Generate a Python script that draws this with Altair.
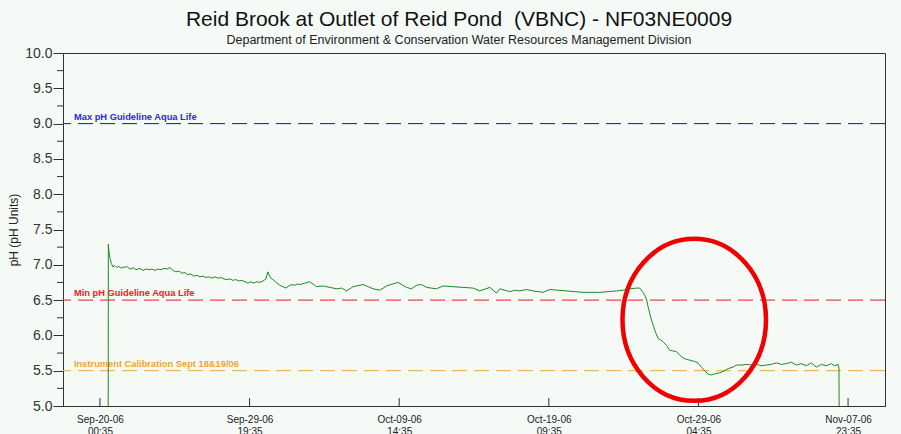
import altair as alt
import pandas as pd

# ---- data -------------------------------------------------------------
# Reference instant for the time axis (first labelled tick)
T0 = pd.Timestamp("2006-09-20 00:35")

# Hours after T0 of each logged reading, and the pH value at that time
elapsed_hours = [
    13.0, 13.2, 14.1, 15.7, 18.1, 20.4, 23.6, 26.7, 29.8, 33.0, 36.1, 39.3,
    42.4, 45.5, 48.7, 51.8, 55.0, 58.1, 61.2, 64.4, 67.5, 72.2, 76.9, 81.6,
    86.4, 91.1, 95.8, 100.5, 105.2, 109.9, 114.6, 119.3, 124.0, 128.7, 133.5,
    138.2, 142.9, 147.6, 152.3, 157.0, 161.7, 166.4, 171.1, 175.8, 180.6,
    185.3, 190.0, 194.7, 199.4, 204.1, 208.8, 213.5, 218.2, 222.9, 227.7,
    232.4,
    237.0, 242.0, 246.5, 251.0, 256.0, 260.6, 263.8, 265.3, 268.5, 273.2,
    277.9, 282.6, 287.3, 292.0, 296.7, 301.4, 306.2, 310.9, 314.0,
    329.7, 340.2, 350.6, 361.1, 371.6, 379.5, 387.3, 397.7, 413.4, 421.2,
    429.1, 439.6, 450.1, 460.5, 468.3, 481.5, 489.4, 497.2, 505.1, 512.9,
    528.6, 539.0, 554.7, 570.4, 586.1, 596.6, 612.3, 622.8, 628.0,
    635.9, 643.7, 651.6, 659.4, 669.9, 680.3, 688.1, 696.0, 706.5, 719.5,
    732.7, 745.8, 758.8, 772.0, 785.0, 798.0, 811.2, 821.6, 832.1, 842.6,
    847.8, 853.0, 855.6, 858.8,
    860.8, 863.5, 866.2, 868.7, 872.4, 876.5, 884.4, 889.7, 894.9, 900.1,
    905.4, 910.6, 915.8, 921.1, 926.3, 934.2, 939.3, 944.7, 949.9, 955.0,
    960.4, 967.1, 973.4, 981.3, 986.4, 994.3, 999.6, 1007.5, 1015.3, 1023.2,
    1031.0, 1038.9, 1046.7, 1054.6, 1062.4, 1070.3, 1078.1, 1086.0, 1093.8,
    1101.7, 1109.5, 1117.4, 1125.2, 1133.1, 1140.9, 1148.8, 1154.0, 1159.1,
    1160.7, 1161.0,
]
ph = [
    5.00, 7.29, 7.20, 7.09, 7.02, 6.97, 6.99, 6.96, 6.98, 6.95, 6.97, 6.96,
    6.98, 6.95, 6.94, 6.96, 6.94, 6.93, 6.95, 6.94, 6.92, 6.94, 6.93, 6.94,
    6.92, 6.94, 6.93, 6.95, 6.94, 6.96, 6.92, 6.90, 6.91, 6.88, 6.89,
    6.86, 6.87, 6.84, 6.85, 6.83, 6.84, 6.82, 6.83, 6.81, 6.83,
    6.81, 6.82, 6.80, 6.79, 6.80, 6.78, 6.79, 6.77, 6.78, 6.76,
    6.74,
    6.76, 6.74, 6.76, 6.75, 6.77, 6.80, 6.90, 6.86, 6.81, 6.78,
    6.74, 6.71, 6.69, 6.67, 6.70, 6.72, 6.71, 6.73, 6.72,
    6.76, 6.69, 6.70, 6.68, 6.66, 6.67, 6.63, 6.69, 6.72, 6.69,
    6.66, 6.64, 6.70, 6.73, 6.75, 6.68, 6.66, 6.71, 6.72, 6.68,
    6.66, 6.70, 6.69, 6.68, 6.67, 6.63, 6.68, 6.60, 6.66,
    6.64, 6.62, 6.64, 6.63, 6.65, 6.63, 6.62, 6.61, 6.65, 6.64,
    6.63, 6.62, 6.61, 6.61, 6.61, 6.62, 6.63, 6.64, 6.66, 6.67,
    6.67, 6.61, 6.57, 6.50,
    6.41, 6.31, 6.22, 6.15, 6.05, 5.96, 5.91, 5.86, 5.79, 5.78,
    5.77, 5.72, 5.68, 5.66, 5.65, 5.63, 5.61, 5.55, 5.50, 5.45,
    5.44, 5.46, 5.47, 5.50, 5.53, 5.55, 5.58, 5.58, 5.59, 5.58,
    5.59, 5.57, 5.58, 5.59, 5.61, 5.59, 5.60, 5.62, 5.58,
    5.60, 5.57, 5.61, 5.55, 5.59, 5.57, 5.60, 5.57, 5.59,
    5.54, 5.00,
]

# Guideline levels drawn across the plot
guide_labels = ["Max pH Guideline Aqua Life", "Min pH Guideline Aqua Life",
                "Instrument Calibration Sept 18&19/06"]
guide_levels = [9.0, 6.5, 5.5]
guide_colors = ["#1a1a8c", "#f01818", "#f0a432"]
guide_text_colors = ["#2a2ae0", "#f02020", "#f0a432"]

# Labelled x ticks (hours after T0) and the visible time window
tick_hours = [0, 235, 470, 705, 940, 1175]
window_hours = [-58, 1233]

# y axis: labelled and minor ticks
y_major = [5.0, 5.5, 6.0, 6.5, 7.0, 7.5, 8.0, 8.5, 9.0, 9.5, 10.0]
y_minor = [5.25, 5.75, 6.25, 6.75, 7.25, 7.75, 8.25, 8.75, 9.25, 9.75]

# Circled period of the pH drop (centre time in hours after T0, centre pH)
circle_hours = [933.4]
circle_ph = [6.22]

# ---- tables -----------------------------------------------------------
def to_time(h):
    return T0 + pd.Timedelta(hours=h)

def to_dt(ts):
    return alt.DateTime(year=ts.year, month=ts.month, date=ts.day,
                        hours=ts.hour, minutes=ts.minute)

series = pd.DataFrame({"time": [to_time(h) for h in elapsed_hours], "ph": ph})
guides = pd.DataFrame({"label": guide_labels, "level": guide_levels,
                       "color": guide_colors, "tcolor": guide_text_colors})
ticks = pd.DataFrame({"time": [to_time(h) for h in tick_hours]})
minor = pd.DataFrame({"v": y_minor})
circle = pd.DataFrame({"time": [to_time(h) for h in circle_hours], "ph": circle_ph})

W, H = 822, 353
FONT = "Liberation Sans"

x_scale = alt.Scale(domain=[to_dt(to_time(window_hours[0])),
                            to_dt(to_time(window_hours[1]))])
y_scale = alt.Scale(domain=[5, 10], nice=False, zero=False)

# Every layer shares identical axis definitions so the merged axes keep them
x_axis = alt.Axis(
    values=[to_dt(to_time(h)) for h in tick_hours],
    labelExpr="[timeFormat(datum.value, '%b-%d-%y'), timeFormat(datum.value, '%H:%M')]",
    ticks=False, grid=False, labelFont=FONT, labelFontSize=10,
    labelColor="#222", labelPadding=8, labelLineHeight=12,
    domainColor="#333", title=None, labelOverlap=False,
)
y_axis = alt.Axis(
    values=y_major, format=".1f", grid=False, tickSize=10, tickColor="#333",
    domainColor="#333", labelFont=FONT, labelFontSize=14, labelColor="#333",
    labelPadding=1, labelOverlap=False, labelBound=False,
    title="pH (pH Units)", titleFont=FONT, titleFontSize=12,
    titleFontWeight="normal", titleColor="#222", titlePadding=4,
)

line = alt.Chart(series).mark_line(color="#1f8a1f", strokeWidth=1).encode(
    x=alt.X("time:T", scale=x_scale, axis=x_axis),
    y=alt.Y("ph:Q", scale=y_scale, axis=y_axis),
)

guide_rules = alt.Chart(guides).mark_rule(strokeWidth=1, strokeDash=[15, 7]).encode(
    y=alt.Y("level:Q", scale=y_scale, axis=y_axis),
    color=alt.Color("color:N", scale=None),
)

guide_text = alt.Chart(guides).mark_text(
    align="left", baseline="alphabetic", dy=-4, font=FONT, fontSize=9.3,
    fontWeight="bold",
).encode(
    x=alt.value(11),
    y=alt.Y("level:Q", scale=y_scale, axis=y_axis),
    text="label:N",
    color=alt.Color("tcolor:N", scale=None),
)

x_ticks = alt.Chart(ticks).mark_rule(color="#333", strokeWidth=1).encode(
    x=alt.X("time:T", scale=x_scale, axis=x_axis),
    y=alt.value(H - 8), y2=alt.value(H),
)

y_minor_ticks = alt.Chart(minor).mark_rule(color="#333", strokeWidth=1).encode(
    y=alt.Y("v:Q", scale=y_scale, axis=y_axis),
    x=alt.value(-6), x2=alt.value(0),
)

ellipse = alt.Chart(circle).mark_point(
    shape="M -0.886 0 A 0.886 1 0 1 1 0.886 0 A 0.886 1 0 1 1 -0.886 0 Z",
    filled=False, stroke="#f00000", strokeWidth=4.5, opacity=1, size=26244,
).encode(
    x=alt.X("time:T", scale=x_scale, axis=x_axis),
    y=alt.Y("ph:Q", scale=y_scale, axis=y_axis),
)

chart = alt.layer(
    guide_rules, guide_text, x_ticks, y_minor_ticks, line, ellipse,
).properties(
    width=W, height=H,
    title=alt.TitleParams(
        text="Reid Brook at Outlet of Reid Pond\u00a0 (VBNC) - NF03NE0009",
        subtitle="Department of Environment & Conservation Water Resources Management Division",
        font=FONT, fontSize=21, fontWeight="normal", color="#111",
        subtitleFont=FONT, subtitleFontSize=12.5, subtitleColor="#222",
        subtitlePadding=4, anchor="middle", offset=0, dx=-15,
    ),
    autosize=alt.AutoSizeParams(type="none"),
    padding={"left": 63, "top": 53, "right": 16, "bottom": 28},
).configure(
    background="#f5faf7",
).configure_view(
    stroke="#333", strokeWidth=1, fill="#f5faf7",
)

chart.save("out.html", embed_options={"renderer": "svg", "actions": False})
